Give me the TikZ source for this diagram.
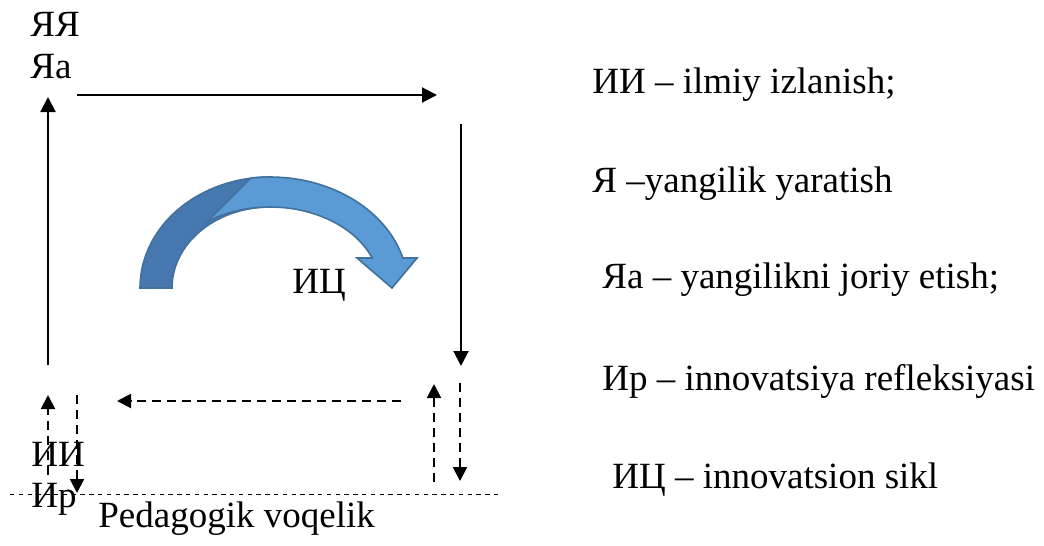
\documentclass[tikz,border=0pt]{standalone}
\usepackage{fontspec}
\setmainfont{Liberation Serif}
\usetikzlibrary{arrows.meta}

\definecolor{arcdark}{RGB}{70,120,175}
\definecolor{arclight}{RGB}{91,155,213}
\definecolor{arcedge}{RGB}{65,113,156}

\begin{document}
\begin{tikzpicture}[x=0.5pt,y=-0.5pt]
      \tikzset{
        every node/.style={anchor=base west,inner sep=0pt,font=\fontsize{18.5}{22}\selectfont},
        cyclearr/.style={line width=1pt,-{Triangle[length=7.5pt,width=7.5pt]}},
        backarr/.style={line width=1pt,dash pattern=on 4.5pt off 3pt,-{Triangle[length=7pt,width=7pt]}},
        groundline/.style={line width=0.5pt,dash pattern=on 2.2pt off 2.2pt}
      }
      \useasboundingbox (0,0) rectangle (1044,546);

      % labels of the cycle
      \node (yy) at (30,36) {ЯЯ};
      \node (ya) at (30,78) {Яa};
      \node (ii) at (31,466) {ИИ};
      \node (ir) at (31,507) {Ир};
      \node (ic) at (292,293) {ИЦ};
      \node (pv) at (98,527) {Pedagogik voqelik};

      % legend
      \node (t1) at (592,93) {ИИ – ilmiy izlanish;};
      \node (t2) at (592,192) {Я –yangilik yaratish};
      \node (t3) at (602,288) {Яa – yangilikni joriy etish;};
      \node (t4) at (602,390) {Ир – innovatsiya refleksiyasi};
      \node (t5) at (612,488) {ИЦ – innovatsion sikl};

      % arrow ends
      \coordinate (a1) at (48,365);  \coordinate (a2) at (48,97);
      \coordinate (b1) at (77,95);   \coordinate (b2) at (437,95);
      \coordinate (c1) at (461,124); \coordinate (c2) at (461,366);
      \coordinate (d1) at (401,401); \coordinate (d2) at (117,401);
      \coordinate (e1) at (434,482); \coordinate (e2) at (434,384);
      \coordinate (f1) at (460,383); \coordinate (f2) at (460,481);
      \coordinate (g1) at (48,475);  \coordinate (g2) at (48,395);
      \coordinate (h1) at (77,395);  \coordinate (h2) at (77,493);
      \coordinate (k1) at (10,494);  \coordinate (k2) at (501,494);

      \draw (a1) edge[cyclearr] (a2)
            (b1) edge[cyclearr] (b2)
            (c1) edge[cyclearr] (c2);
      \draw (d1) edge[backarr] (d2)
            (e1) edge[backarr] (e2)
            (f1) edge[backarr] (f2)
            (g1) edge[backarr] (g2)
            (h1) edge[backarr] (h2);
      \draw[groundline] (k1) -- (k2);

      % curved arrow
      \filldraw[fill=arcdark,draw=arcedge,line width=0.8pt]
        plot[domain=180:270,samples=40] ({270+130*cos(\x)},{288+111*sin(\x)})
        -- plot[domain=270:180,samples=40] ({270+98*cos(\x)},{288+81*sin(\x)}) -- cycle;
      \filldraw[fill=arclight,draw=arcedge,line width=0.8pt]
        plot[domain=262:344.3,samples=40] ({270+138*cos(\x)},{288+111*sin(\x)})
        -- (417,258) -- (392,288) -- (357,258)
        -- plot[domain=338.3:235,samples=40] ({270+110*cos(\x)},{288+81*sin(\x)}) -- cycle;
    \end{tikzpicture}
\end{document}
